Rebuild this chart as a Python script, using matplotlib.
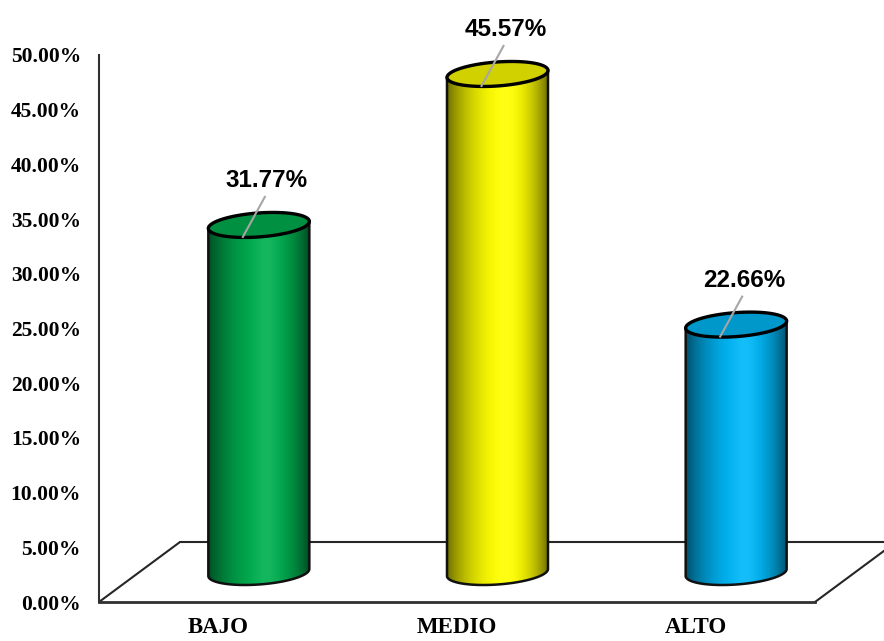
import numpy as np
import matplotlib
matplotlib.use('Agg')
import matplotlib.pyplot as plt
from matplotlib.patches import Polygon, PathPatch
from matplotlib.path import Path
from matplotlib.colors import to_rgb

categories = ['BAJO', 'MEDIO', 'ALTO']
values = [31.77, 45.57, 22.66]
value_labels = ['31.77%', '45.57%', '22.66%']
colors = ['#00B050', '#FFFF00', '#00B8F8']
y_ticks = [0, 5, 10, 15, 20, 25, 30, 35, 40, 45, 50]
y_tick_labels = ['0.00%', '5.00%', '10.00%', '15.00%', '20.00%', '25.00%',
                 '30.00%', '35.00%', '40.00%', '45.00%', '50.00%']

W, H = 884, 641
fig = plt.figure(figsize=(W / 100, H / 100), dpi=100)
ax_l, ax_b, ax_r, ax_t = 99, 602, 815, 55
ax = fig.add_axes([ax_l / W, (H - ax_b) / H, (ax_r - ax_l) / W, (ax_b - ax_t) / H])
ax.set_xlim(-0.5, len(categories) - 0.5)
ax.set_ylim(0, 50)
ax.patch.set_visible(False)

px_x = (len(categories)) / (ax_r - ax_l)
px_y = 50 / (ax_b - ax_t)

# floor (3D depth)
depth_x, depth_y = 81 * px_x, 60 * px_y
x0, x1 = -0.5, len(categories) - 0.5
floor_kw = dict(color='#262626', lw=1.5, clip_on=False, zorder=1, solid_capstyle='round')
ax.plot([x0, x0 + depth_x], [0, depth_y], **floor_kw)
ax.plot([x0 + depth_x, x1 + depth_x], [depth_y, depth_y], **floor_kw)
ax.plot([x1, x1 + depth_x], [0, depth_y], **floor_kw)

# spines
for s in ['top', 'right']:
    ax.spines[s].set_visible(False)
ax.spines['left'].set_color('#303030')
ax.spines['left'].set_linewidth(1.5)
ax.spines['bottom'].set_color('#303030')
ax.spines['bottom'].set_linewidth(2.0)
ax.spines['left'].set_zorder(2)
ax.spines['bottom'].set_zorder(2)

ax.set_yticks(y_ticks)
ax.set_yticklabels(y_tick_labels, fontfamily='Liberation Serif', fontweight='bold', fontsize=15.5)
ax.tick_params(axis='y', length=0, pad=13)
ax.set_xticks(range(len(categories)))
ax.set_xticklabels(categories, fontfamily='Liberation Serif', fontweight='bold', fontsize=16.5)
ax.tick_params(axis='x', length=0, pad=11)


def profile(t):
    p = 0.58
    s = np.where(t < p, t / p, (1 - t) / (1 - p))
    return 0.42 + 0.58 * np.sin(np.pi / 2 * s) ** 0.8


cyl_dx, cyl_dy = 40.5 * px_x, 29.5 * px_y
a = 50.5 * px_x
b = 12 * px_y
k = 3.5 * px_y  # perspective tilt at the ellipse ends
N = 256
t = np.linspace(0, 1, N)
for i, (v, col, lab) in enumerate(zip(values, colors, value_labels)):
    cx = i + cyl_dx
    y0 = cyl_dy
    yt = v + cyl_dy
    base = np.array(to_rgb(col))
    f = profile(t)[:, None]
    grad = np.clip(base[None, :] * f, 0, 1)
    hl = np.exp(-((t - 0.58) / 0.12) ** 2)[:, None] * 0.08
    grad = np.clip(grad + hl * (1 - grad), 0, 1)
    img = grad[None, :, :]

    th = np.linspace(np.pi, 2 * np.pi, 80)
    verts = [(cx - a, yt - k), (cx - a, y0 - k)]
    verts += [(cx + a * np.cos(q), y0 + b * np.sin(q) + k * np.cos(q)) for q in th]
    verts += [(cx + a, yt + k), (cx - a, yt - k)]
    codes = [Path.MOVETO] + [Path.LINETO] * (len(verts) - 2) + [Path.CLOSEPOLY]
    body = PathPatch(Path(verts, codes), facecolor='none', edgecolor='#111111',
                     lw=1.8, zorder=4, clip_on=False)
    ax.add_patch(body)
    im = ax.imshow(img, extent=[cx - a, cx + a, y0 - b - k, yt + k], aspect='auto',
                   interpolation='bilinear', zorder=3)
    im.set_clip_path(body)

    tt = np.linspace(0, 2 * np.pi, 160)
    top_pts = np.column_stack([cx + a * np.cos(tt), yt + b * np.sin(tt) + k * np.cos(tt)])
    top = Polygon(top_pts, closed=True, facecolor=tuple(base * 0.82),
                  edgecolor='black', lw=2.4, zorder=5, clip_on=False)
    ax.add_patch(top)

    ax.plot([cx + 6 * px_x, cx - 16 * px_x], [yt + 28 * px_y, yt - 12 * px_y],
            color='#a6a6a6', lw=1.5, zorder=6, clip_on=False)
    ax.text(cx + 8 * px_x, yt + 38 * px_y, lab, ha='center', va='baseline',
            fontfamily='Liberation Sans', fontweight='bold', fontsize=17.5,
            color='black', zorder=7, clip_on=False)

ax.set_xlim(-0.5, len(categories) - 0.5)
ax.set_ylim(0, 50)

fig.savefig('out.png', dpi=100)
